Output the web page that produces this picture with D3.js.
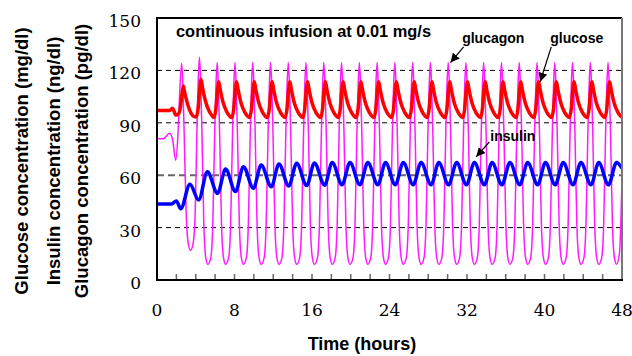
<!DOCTYPE html>
<html>
<head>
<meta charset="utf-8">
<script src="https://cdn.jsdelivr.net/npm/d3@7"></script>
<style>
  html, body { margin: 0; padding: 0; background: #fff; }
  svg { display: block; }
</style>
</head>
<body>
<svg id="chart" width="632" height="356"></svg>
<script>
// ---------------- data (time in hours, value) ----------------
const xTicks = [0, 8, 16, 24, 32, 40, 48];
const xMinorTicks = [2,4,6,8,10,12,14,16,18,20,22,24,26,28,30,32,34,36,38,40,42,44,46];
const yTicks = [0, 30, 60, 90, 120, 150];
const gridValues = [30, 60, 90, 120];

const glucose = [
  [0,97],[1.3,97],[1.6,98.3],[1.95,94.5],[2.2,95],[2.42,99],[2.57,106],[2.72,111],[2.87,107],[3.17,100.5],[3.57,95],[3.82,93.6],
  [4.05,93.3],[4.25,98.5],[4.40,109],[4.55,115],[4.70,110],[5.00,102.5],[5.40,96.5],[5.65,94.3],
  [5.88,93],[6.08,98],[6.23,108],[6.38,113.5],[6.53,109],[6.83,101.5],[7.23,96],[7.48,94],
  [7.72,93],[7.92,98],[8.07,108],[8.22,113.5],[8.37,109],[8.67,101.5],[9.07,96],[9.32,94],
  [9.55,93],[9.75,98],[9.90,108],[10.05,113.5],[10.20,109],[10.50,101.5],[10.90,96],[11.15,94],
  [11.39,93],[11.59,98],[11.74,108],[11.89,113.5],[12.04,109],[12.34,101.5],[12.74,96],[12.99,94],
  [13.22,93],[13.42,98],[13.57,108],[13.72,113.5],[13.87,109],[14.17,101.5],[14.57,96],[14.82,94],
  [15.05,93],[15.25,98],[15.40,108],[15.55,113.5],[15.70,109],[16.00,101.5],[16.40,96],[16.65,94],
  [16.89,93],[17.09,98],[17.24,108],[17.39,113.5],[17.54,109],[17.84,101.5],[18.24,96],[18.49,94],
  [18.72,93],[18.92,98],[19.07,108],[19.22,113.5],[19.37,109],[19.67,101.5],[20.07,96],[20.32,94],
  [20.56,93],[20.76,98],[20.91,108],[21.06,113.5],[21.21,109],[21.51,101.5],[21.91,96],[22.16,94],
  [22.39,93],[22.59,98],[22.74,108],[22.89,113.5],[23.04,109],[23.34,101.5],[23.74,96],[23.99,94],
  [24.22,93],[24.42,98],[24.57,108],[24.72,113.5],[24.87,109],[25.17,101.5],[25.57,96],[25.82,94],
  [26.06,93],[26.26,98],[26.41,108],[26.56,113.5],[26.71,109],[27.01,101.5],[27.41,96],[27.66,94],
  [27.89,93],[28.09,98],[28.24,108],[28.39,113.5],[28.54,109],[28.84,101.5],[29.24,96],[29.49,94],
  [29.73,93],[29.93,98],[30.08,108],[30.23,113.5],[30.38,109],[30.68,101.5],[31.08,96],[31.33,94],
  [31.56,93],[31.76,98],[31.91,108],[32.06,113.5],[32.21,109],[32.51,101.5],[32.91,96],[33.16,94],
  [33.39,93],[33.59,98],[33.74,108],[33.89,113.5],[34.04,109],[34.34,101.5],[34.74,96],[34.99,94],
  [35.23,93],[35.43,98],[35.58,108],[35.73,113.5],[35.88,109],[36.18,101.5],[36.58,96],[36.83,94],
  [37.06,93],[37.26,98],[37.41,108],[37.56,113.5],[37.71,109],[38.01,101.5],[38.41,96],[38.66,94],
  [38.90,93],[39.10,98],[39.25,108],[39.40,113.5],[39.55,109],[39.85,101.5],[40.25,96],[40.50,94],
  [40.73,93],[40.93,98],[41.08,108],[41.23,113.5],[41.38,109],[41.68,101.5],[42.08,96],[42.33,94],
  [42.56,93],[42.76,98],[42.91,108],[43.06,113.5],[43.21,109],[43.51,101.5],[43.91,96],[44.16,94],
  [44.40,93],[44.60,98],[44.75,108],[44.90,113.5],[45.05,109],[45.35,101.5],[45.75,96],[46.00,94],
  [46.23,93],[46.43,98],[46.58,108],[46.73,113.5],[46.88,109],[47.18,101.5],[47.58,96],[47.83,94],
  [48,93.3]
];

const insulin = [
  [0,43.5],[1.45,43.5],[2.0,45.2],[2.45,40.8],[3.4,54.8],[4.3,45.8],[5.2,62],[6.25,49.6],
  [7.08,63.5],[8.1,50.6],[8.92,64.9],[9.95,52.5],[10.75,65.8],[11.8,53.4],[12.59,66.4],[13.6,53.8],
  [14.42,66.8],[15.45,54.1],[16.25,67],[17.3,54.3],[18.09,67.2],[19.1,54.5],[19.92,67.2],[20.95,54.5],
  [21.76,67.2],[22.8,54.5],[23.59,67.2],[24.6,54.5],[25.42,67.2],[26.45,54.5],[27.26,67.2],[28.3,54.5],
  [29.09,67.2],[30.1,54.5],[30.93,67.2],[31.95,54.5],[32.76,67.2],[33.8,54.5],[34.59,67.2],[35.6,54.5],
  [36.43,67.2],[37.45,54.5],[38.26,67.2],[39.3,54.5],[40.10,67.2],[41.1,54.5],[41.93,67.2],[42.95,54.5],
  [43.76,67.2],[44.8,54.5],[45.60,67.2],[46.6,54.5],[47.43,67.2],[48,64]
];

const glucagon = [
  [0,81],[0.65,80.8],[1.3,84],[1.62,80],[1.93,68.5],[2.15,82],[2.35,108],[2.55,124],[2.67,111],[2.8,85],[3.0,40],[3.2,22],[3.46,17],
  [3.73,21],[3.93,36],[4.13,88],[4.26,115],[4.38,127.5],[4.50,115],[4.63,87],[4.83,33],[5.03,13],[5.26,9],
  [5.56,13],[5.76,32],[5.96,85],[6.09,112],[6.21,124.5],[6.33,112],[6.46,85],[6.66,32],[6.86,13],[7.09,9],
  [7.40,13],[7.60,32],[7.80,85],[7.93,112],[8.05,124.5],[8.17,112],[8.30,85],[8.50,32],[8.70,13],[8.93,9],
  [9.23,13],[9.43,32],[9.63,85],[9.76,112],[9.88,124.5],[10.00,112],[10.13,85],[10.33,32],[10.53,13],[10.76,9],
  [11.07,13],[11.27,32],[11.47,85],[11.60,112],[11.72,124.5],[11.84,112],[11.97,85],[12.17,32],[12.37,13],[12.60,9],
  [12.90,13],[13.10,32],[13.30,85],[13.43,112],[13.55,124.5],[13.67,112],[13.80,85],[14.00,32],[14.20,13],[14.43,9],
  [14.73,13],[14.93,32],[15.13,85],[15.26,112],[15.38,124.5],[15.50,112],[15.63,85],[15.83,32],[16.03,13],[16.26,9],
  [16.57,13],[16.77,32],[16.97,85],[17.10,112],[17.22,124.5],[17.34,112],[17.47,85],[17.67,32],[17.87,13],[18.10,9],
  [18.40,13],[18.60,32],[18.80,85],[18.93,112],[19.05,124.5],[19.17,112],[19.30,85],[19.50,32],[19.70,13],[19.93,9],
  [20.24,13],[20.44,32],[20.64,85],[20.77,112],[20.89,124.5],[21.01,112],[21.14,85],[21.34,32],[21.54,13],[21.77,9],
  [22.07,13],[22.27,32],[22.47,85],[22.60,112],[22.72,124.5],[22.84,112],[22.97,85],[23.17,32],[23.37,13],[23.60,9],
  [23.90,13],[24.10,32],[24.30,85],[24.43,112],[24.55,124.5],[24.67,112],[24.80,85],[25.00,32],[25.20,13],[25.43,9],
  [25.74,13],[25.94,32],[26.14,85],[26.27,112],[26.39,124.5],[26.51,112],[26.64,85],[26.84,32],[27.04,13],[27.27,9],
  [27.57,13],[27.77,32],[27.97,85],[28.10,112],[28.22,124.5],[28.34,112],[28.47,85],[28.67,32],[28.87,13],[29.10,9],
  [29.41,13],[29.61,32],[29.81,85],[29.94,112],[30.06,124.5],[30.18,112],[30.31,85],[30.51,32],[30.71,13],[30.94,9],
  [31.24,13],[31.44,32],[31.64,85],[31.77,112],[31.89,124.5],[32.01,112],[32.14,85],[32.34,32],[32.54,13],[32.77,9],
  [33.07,13],[33.27,32],[33.47,85],[33.60,112],[33.72,124.5],[33.84,112],[33.97,85],[34.17,32],[34.37,13],[34.60,9],
  [34.91,13],[35.11,32],[35.31,85],[35.44,112],[35.56,124.5],[35.68,112],[35.81,85],[36.01,32],[36.21,13],[36.44,9],
  [36.74,13],[36.94,32],[37.14,85],[37.27,112],[37.39,124.5],[37.51,112],[37.64,85],[37.84,32],[38.04,13],[38.27,9],
  [38.58,13],[38.78,32],[38.98,85],[39.11,112],[39.23,124.5],[39.35,112],[39.48,85],[39.68,32],[39.88,13],[40.11,9],
  [40.41,13],[40.61,32],[40.81,85],[40.94,112],[41.06,124.5],[41.18,112],[41.31,85],[41.51,32],[41.71,13],[41.94,9],
  [42.24,13],[42.44,32],[42.64,85],[42.77,112],[42.89,124.5],[43.01,112],[43.14,85],[43.34,32],[43.54,13],[43.77,9],
  [44.08,13],[44.28,32],[44.48,85],[44.61,112],[44.73,124.5],[44.85,112],[44.98,85],[45.18,32],[45.38,13],[45.61,9],
  [45.91,13],[46.11,32],[46.31,85],[46.44,112],[46.56,124.5],[46.68,112],[46.81,85],[47.01,32],[47.21,13],[47.44,9],
  [47.75,16],[48,58]
];

const yLabels = ["Glucose concentration (mg/dl)", "Insulin concentration (ng/dl)", "Glucagon concentration (pg/dl)"];
const titleText = "continuous infusion at 0.01 mg/s";
const xTitle = "Time (hours)";
// annotations: label, label anchor (data coords) and arrow tip (data coords)
const annotations = [
  { text: "glucagon", tx: 31.5, ty: 135.5, ax: 31.65, ay: 133.5, hx: 30.3, hy: 124.5 },
  { text: "glucose",  tx: 40.6, ty: 135.5, ax: 40.7, ay: 133.5, hx: 39.55, hy: 113.5 },
  { text: "insulin",  tx: 34.4, ty: 79.5,  ax: 34.3, ay: 79.0,  hx: 32.95, hy: 70.5 }
];

// ---------------- drawing ----------------
const svg = d3.select("#chart");
const L = 157, R = 622, T = 18, B = 280;

const x = d3.scaleLinear().domain([0, 48]).range([L, R]);
const y = d3.scaleLinear().domain([0, 150]).range([B, T]);

svg.append("rect").attr("width", 632).attr("height", 356).attr("fill", "#fff");

svg.append("defs").append("clipPath").attr("id", "plotclip")
  .append("rect").attr("x", L).attr("y", T).attr("width", R - L).attr("height", B - T);

// gridlines
svg.append("g").selectAll("line").data(gridValues).join("line")
  .attr("x1", L).attr("x2", R)
  .attr("y1", d => y(d)).attr("y2", d => y(d))
  .attr("stroke", d => d === 60 ? "#666" : "#000")
  .attr("stroke-width", d => d === 60 ? 2 : 1)
  .attr("stroke-dasharray", d => d === 60 ? "7,4" : "5,4");

// inner ticks on x axis
svg.append("g").selectAll("line").data(xMinorTicks).join("line")
  .attr("x1", d => x(d)).attr("x2", d => x(d))
  .attr("y1", B).attr("y2", B - 6)
  .attr("stroke", "#666").attr("stroke-width", 1.5);

// series
const line = d3.line().x(d => x(d[0])).y(d => y(d[1])).curve(d3.curveMonotoneX);
const plot = svg.append("g").attr("clip-path", "url(#plotclip)");
plot.append("path").datum(glucagon).attr("d", line)
  .attr("fill", "none").attr("stroke", "#ff1aff").attr("stroke-width", 1.5);
plot.append("path").datum(glucose).attr("d", line)
  .attr("fill", "none").attr("stroke", "#ff0000").attr("stroke-width", 3.5).attr("stroke-linejoin", "round");
plot.append("path").datum(insulin).attr("d", line)
  .attr("fill", "none").attr("stroke", "#0000ff").attr("stroke-width", 3.5).attr("stroke-linejoin", "round");

// frame
svg.append("line").attr("x1", L).attr("x2", R).attr("y1", T).attr("y2", T).attr("stroke", "#000").attr("stroke-width", 2);
svg.append("line").attr("x1", R).attr("x2", R).attr("y1", T).attr("y2", B).attr("stroke", "#777").attr("stroke-width", 2);
svg.append("line").attr("x1", L).attr("x2", L).attr("y1", T - 1).attr("y2", B + 1).attr("stroke", "#000").attr("stroke-width", 2);
svg.append("line").attr("x1", L - 1).attr("x2", R + 1).attr("y1", B).attr("y2", B).attr("stroke", "#000").attr("stroke-width", 2);

// tick labels
svg.append("g").selectAll("text").data(yTicks).join("text")
  .attr("x", 141).attr("y", d => y(d) + 9)
  .attr("text-anchor", "end")
  .attr("font-family", "DejaVu Serif").attr("font-size", 17)
  .text(d => d);
svg.append("g").selectAll("text").data(xTicks).join("text")
  .attr("x", d => x(d)).attr("y", 316)
  .attr("text-anchor", "middle")
  .attr("font-family", "DejaVu Serif").attr("font-size", 17)
  .text(d => d);

// axis titles
svg.append("text").attr("x", 362).attr("y", 350).attr("text-anchor", "middle")
  .attr("font-family", "Liberation Sans, Arial, sans-serif").attr("font-weight", "bold").attr("font-size", 18)
  .text(xTitle);
const yLabelX = [28, 60, 88];
svg.append("g").selectAll("text").data(yLabels).join("text")
  .attr("transform", (d, i) => `translate(${yLabelX[i]},161) rotate(-90)`)
  .attr("text-anchor", "middle")
  .attr("font-family", "Liberation Sans, Arial, sans-serif").attr("font-weight", "bold").attr("font-size", 18.5)
  .text(d => d);

// title inside plot
svg.append("text").attr("x", 176).attr("y", 37)
  .attr("font-family", "Liberation Sans, Arial, sans-serif").attr("font-weight", "bold").attr("font-size", 16.4)
  .text(titleText);

// annotations with arrows
svg.append("defs").append("marker").attr("id", "arrow")
  .attr("viewBox", "0 0 10 10").attr("refX", 10).attr("refY", 5)
  .attr("markerWidth", 9).attr("markerHeight", 9).attr("markerUnits", "userSpaceOnUse")
  .attr("orient", "auto")
  .append("path").attr("d", "M0,0 L10,5 L0,10 Z").attr("fill", "#000");

const ann = svg.append("g");
ann.selectAll("line").data(annotations).join("line")
  .attr("x1", d => x(d.ax)).attr("y1", d => y(d.ay))
  .attr("x2", d => x(d.hx)).attr("y2", d => y(d.hy))
  .attr("stroke", "#000").attr("stroke-width", 1.2)
  .attr("marker-end", "url(#arrow)");
ann.selectAll("text").data(annotations).join("text")
  .attr("x", d => x(d.tx)).attr("y", d => y(d.ty))
  .attr("font-family", "Liberation Sans, Arial, sans-serif").attr("font-weight", "bold").attr("font-size", 14)
  .text(d => d.text);
</script>
</body>
</html>
